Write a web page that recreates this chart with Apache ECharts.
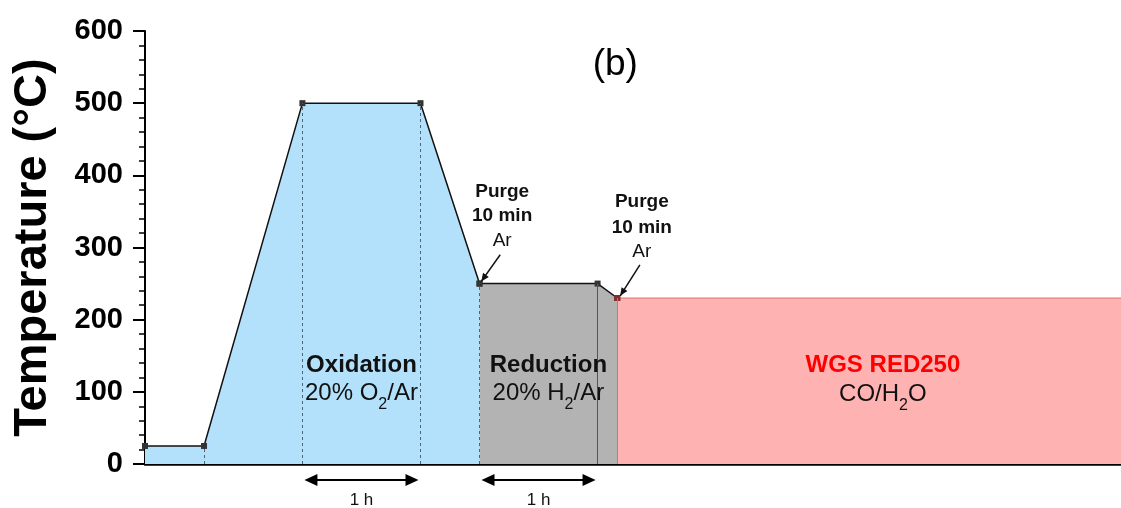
<!DOCTYPE html>
<html>
<head>
<meta charset="utf-8">
<script src="https://cdn.jsdelivr.net/npm/echarts@6/dist/echarts.min.js"></script>
<style>
  html, body { margin: 0; padding: 0; background: #fff; }
  #chart { width: 1121px; height: 508px; }
</style>
</head>
<body>
<div id="chart"></div>
<script>
// Temperature programme: time in minutes, temperature in °C
const stepTime = [0, 30, 80, 140, 170, 230, 240, 496];
const stepTemp = [25, 25, 500, 500, 250, 250, 230, 230];

// Phase boundaries (indices into the step arrays)
const oxidationIdx = [0, 1, 2, 3, 4];
const reductionIdx = [4, 5, 6];
const wgsIdx = [6, 7];

// Dashed guide lines: [time, top temperature]
const guideLines = [[30, 25], [80, 500], [140, 500], [170, 250]];

// Hold durations shown under the axis: [start, end, label]
const holdSpans = [[80, 140, '1 h'], [170, 230, '1 h']];

// Y-axis tick values
const yTicks = [0, 100, 200, 300, 400, 500, 600];

const FONT = 'Arial, "Liberation Sans", Helvetica, sans-serif';

function pts(idx) {
  return idx.map(i => [stepTime[i], stepTemp[i]]);
}

const chart = echarts.init(document.getElementById('chart'), null, { renderer: 'canvas' });

const lineCommon = {
  type: 'line',
  symbol: 'rect',
  symbolSize: 6,
  showSymbol: true,
  itemStyle: { color: '#333' },
  lineStyle: { color: '#111', width: 1.5 },
  emphasis: { disabled: true },
  animation: false,
  z: 3
};

chart.setOption({
  animation: false,
  grid: { left: 145, right: 0, top: 31, bottom: 44, containLabel: false },
  xAxis: {
    type: 'value',
    min: stepTime[0],
    max: stepTime[stepTime.length - 1],
    axisLine: { show: true, onZero: false, lineStyle: { color: '#000', width: 2.5 } },
    axisTick: { show: false },
    axisLabel: { show: false },
    splitLine: { show: false }
  },
  yAxis: {
    type: 'value',
    min: yTicks[0],
    max: yTicks[yTicks.length - 1],
    interval: 100,
    name: 'Temperature (°C)',
    nameLocation: 'middle',
    nameGap: 88,
    nameTextStyle: { fontFamily: FONT, fontWeight: 'bold', fontSize: 47, color: '#000' },
    axisLine: { show: true, lineStyle: { color: '#000', width: 2 } },
    axisTick: { show: true, inside: false, length: 12, lineStyle: { color: '#000', width: 2 } },
    minorTick: { show: true, splitNumber: 5, length: 6, lineStyle: { color: '#000', width: 1.5 } },
    axisLabel: { fontFamily: FONT, fontWeight: 'bold', fontSize: 29, color: '#000', margin: 22 },
    splitLine: { show: false }
  },
  series: [
    Object.assign({}, lineCommon, {
      name: 'Oxidation',
      data: pts(oxidationIdx),
      areaStyle: { color: '#b3e1fb', opacity: 1 },
      markLine: {
        silent: true,
        symbol: 'none',
        label: { show: false },
        lineStyle: { color: '#4d6577', type: [3, 3], width: 1 },
        data: guideLines.map(g => [{ coord: [g[0], 0] }, { coord: [g[0], g[1]] }])
      }
    }),
    Object.assign({}, lineCommon, {
      name: 'Reduction',
      data: pts(reductionIdx),
      areaStyle: { color: '#b3b3b3', opacity: 1 },
      markLine: {
        silent: true,
        symbol: 'none',
        label: { show: false },
        lineStyle: { color: '#555', type: 'solid', width: 1 },
        data: [[{ coord: [stepTime[5], 0] }, { coord: [stepTime[5], stepTemp[5]] }]]
      }
    }),
    Object.assign({}, lineCommon, {
      name: 'WGS',
      data: pts(wgsIdx).map((p, i) => i === wgsIdx.length - 1 ? { value: p, symbol: 'none' } : { value: p, itemStyle: { color: '#8a2a2a' } }),
      areaStyle: { color: '#ffb2b2', opacity: 1 },
      lineStyle: { color: '#e07070', width: 1 },
      markLine: {
        silent: true,
        symbol: 'none',
        label: { show: false },
        lineStyle: { color: '#c07a7a', type: 'solid', width: 1 },
        data: [[{ coord: [stepTime[6], 0] }, { coord: [stepTime[6], stepTemp[6]] }]]
      }
    })
  ]
});

// Text annotations anchored in data coordinates
const px = (x, y) => chart.convertToPixel({ gridIndex: 0 }, [x, y]);

const richStyles = {
  b: { fontFamily: FONT, fontWeight: 'bold', fontSize: 24, fill: '#111' },
  r: { fontFamily: FONT, fontWeight: 'bold', fontSize: 24, fill: '#ff0000' },
  n: { fontFamily: FONT, fontSize: 24, fill: '#111' },
  s: { fontFamily: FONT, fontSize: 16, fill: '#111', padding: [22, 0, 0, 0] },
  pb: { fontFamily: FONT, fontWeight: 'bold', fontSize: 19, fill: '#111' },
  pn: { fontFamily: FONT, fontSize: 19, fill: '#111' }
};

const phaseTexts = [
  { x: 110, y: 137, text: '{b|Oxidation}' },
  { x: 110, y: 98, text: '{n|20% O}{s|2}{n|/Ar}' },
  { x: 205, y: 137, text: '{b|Reduction}' },
  { x: 205, y: 98, text: '{n|20% H}{s|2}{n|/Ar}' },
  { x: 375, y: 137, text: '{r|WGS RED250}' },
  { x: 375, y: 96, text: '{n|CO/H}{s|2}{n|O}' },
  { x: 181.5, y: 377, text: '{pb|Purge}' },
  { x: 181.5, y: 344, text: '{pb|10 min}' },
  { x: 181.5, y: 309, text: '{pn|Ar}' },
  { x: 252.5, y: 363, text: '{pb|Purge}' },
  { x: 252.5, y: 328, text: '{pb|10 min}' },
  { x: 252.5, y: 294, text: '{pn|Ar}' }
];

// Pointer arrows: [from time, from temp, to time, to temp]
const purgePointers = [[180.5, 290, 170.9, 253], [251.5, 276, 241.5, 233]];

const graphics = [];

phaseTexts.forEach(t => {
  const p = px(t.x, t.y);
  graphics.push({
    type: 'text', x: p[0], y: p[1], z: 10,
    style: { text: t.text, rich: richStyles, align: 'center', verticalAlign: 'middle' }
  });
});

function arrowHead(tip, from, len, half, color) {
  const dx = tip[0] - from[0], dy = tip[1] - from[1];
  const d = Math.hypot(dx, dy);
  const ux = dx / d, uy = dy / d;
  const bx = tip[0] - ux * len, by = tip[1] - uy * len;
  return {
    type: 'polygon', z: 10,
    shape: { points: [tip, [bx - uy * half, by + ux * half], [bx + uy * half, by - ux * half]] },
    style: { fill: color }
  };
}

purgePointers.forEach(a => {
  const s = px(a[0], a[1]);
  const e = px(a[2], a[3]);
  graphics.push({
    type: 'line', z: 10,
    shape: { x1: s[0], y1: s[1], x2: e[0], y2: e[1] },
    style: { stroke: '#111', lineWidth: 1.5 }
  });
  graphics.push(arrowHead(e, s, 8, 3.5, '#111'));
});

// Duration arrows beneath the time axis
const axisY = px(0, 0)[1];
holdSpans.forEach(h => {
  const a = px(h[0], 0)[0] + 2;
  const b = px(h[1], 0)[0] - 2;
  const y = axisY + 16;
  graphics.push({
    type: 'line', z: 10,
    shape: { x1: a + 6, y1: y, x2: b - 6, y2: y },
    style: { stroke: '#000', lineWidth: 2.2 }
  });
  graphics.push(arrowHead([a, y], [b, y], 13, 6, '#000'));
  graphics.push(arrowHead([b, y], [a, y], 13, 6, '#000'));
  graphics.push({
    type: 'text', z: 10, x: (a + b) / 2, y: axisY + 36,
    style: { text: h[2], fontFamily: FONT, fontSize: 17, fill: '#111', align: 'center', verticalAlign: 'middle' }
  });
});

// Panel letter
const lp = px(239, 553);
graphics.push({
  type: 'text', z: 10, x: lp[0], y: lp[1],
  style: { text: '(b)', fontFamily: FONT, fontSize: 37, fill: '#000', align: 'center', verticalAlign: 'middle' }
});

chart.setOption({ graphic: graphics });
</script>
</body>
</html>
